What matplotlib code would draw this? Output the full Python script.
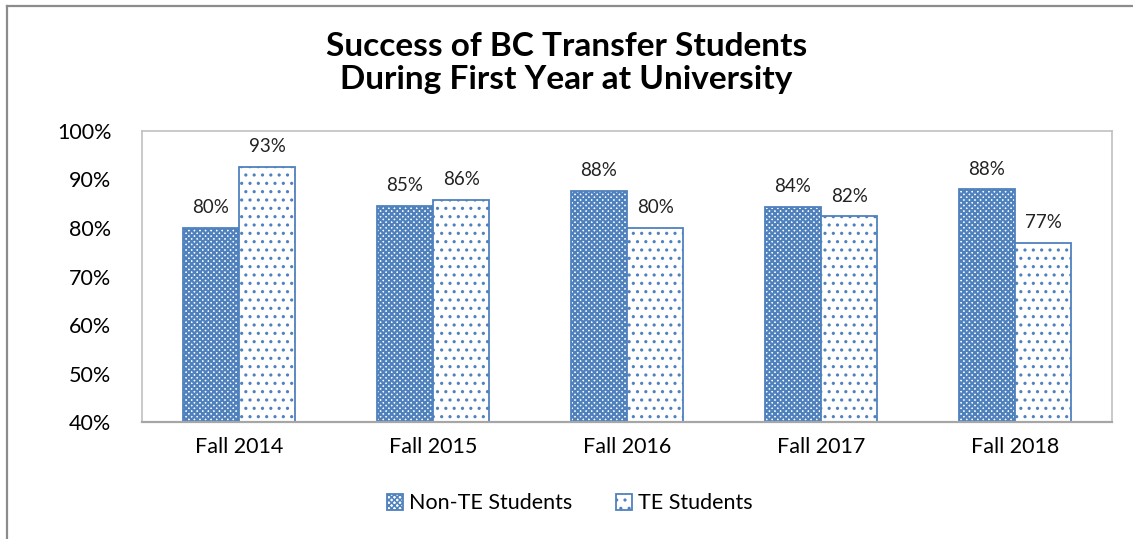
import matplotlib
matplotlib.use("Agg")
import matplotlib.pyplot as plt
import numpy as np
from matplotlib.lines import Line2D

# chart values
years = ["Fall 2014", "Fall 2015", "Fall 2016", "Fall 2017", "Fall 2018"]
non_te = [80.0, 84.6, 87.7, 84.4, 88.0]
te = [92.6, 85.8, 80.0, 82.4, 77.0]
yticks = [40, 50, 60, 70, 80, 90, 100]

blue = "#4f81bd"
plt.rcParams["font.family"] = ["Lato", "DejaVu Sans"]

fig = plt.figure(figsize=(11.33, 5.39), dpi=100)
ax = fig.add_axes([0.1253, 0.217, 0.8562, 0.540])

x = np.arange(len(years))
w = 0.29
plt.rcParams["hatch.linewidth"] = 1.6
b1 = ax.bar(x - w / 2, non_te, w, facecolor="white", edgecolor=blue,
            hatch="xxxxxx", linewidth=1.3, label="Non-TE Students")
plt.rcParams["hatch.linewidth"] = 1.1
b2 = ax.bar(x + w / 2, te, w, facecolor="white", edgecolor=blue,
            hatch="..", linewidth=1.3, label="TE Students")

for bars, vals in ((b1, non_te), (b2, te)):
    for r, v in zip(bars, vals):
        ax.text(r.get_x() + r.get_width() / 2, v + 2.4, "%d%%" % round(v),
                ha="center", va="bottom", fontsize=13.5, color="#222222")

ax.set_xlim(-0.5, len(years) - 0.5)
ax.set_ylim(40, 100)
ax.set_yticks(yticks)
ax.set_yticklabels(["%d%%" % t for t in yticks], fontsize=15.5)
ax.set_xticks(x)
ax.set_xticklabels(years, fontsize=15.5)
ax.tick_params(length=0)
ax.tick_params(axis="y", pad=22)
ax.tick_params(axis="x", pad=11)
for s in ax.spines.values():
    s.set_color("#c0c0c0")
    s.set_linewidth(1.2)
ax.spines["bottom"].set_color("#a6a6a6")
ax.spines["bottom"].set_linewidth(1.6)

fig.text(0.5, 0.883, "Success of BC Transfer Students\nDuring First Year at University",
         ha="center", va="center", fontsize=24, fontweight="bold",
         linespacing=1.15, color="black")

fig.legend(handles=[b1, b2], loc="center", bbox_to_anchor=(0.503, 0.066), ncol=2,
           frameon=False, fontsize=15.5, handlelength=0.75, handleheight=0.75,
           handletextpad=0.3, columnspacing=2.0)

# outer chart frame (top and left edges visible)
fig.add_artist(Line2D([7 / 1133, 1], [1 - 6 / 539, 1 - 6 / 539], color="#8c8c8c",
                      lw=1.6, transform=fig.transFigure))
fig.add_artist(Line2D([7 / 1133, 7 / 1133], [0, 1 - 6 / 539], color="#8c8c8c",
                      lw=1.6, transform=fig.transFigure))

fig.savefig("out.png", dpi=100)
